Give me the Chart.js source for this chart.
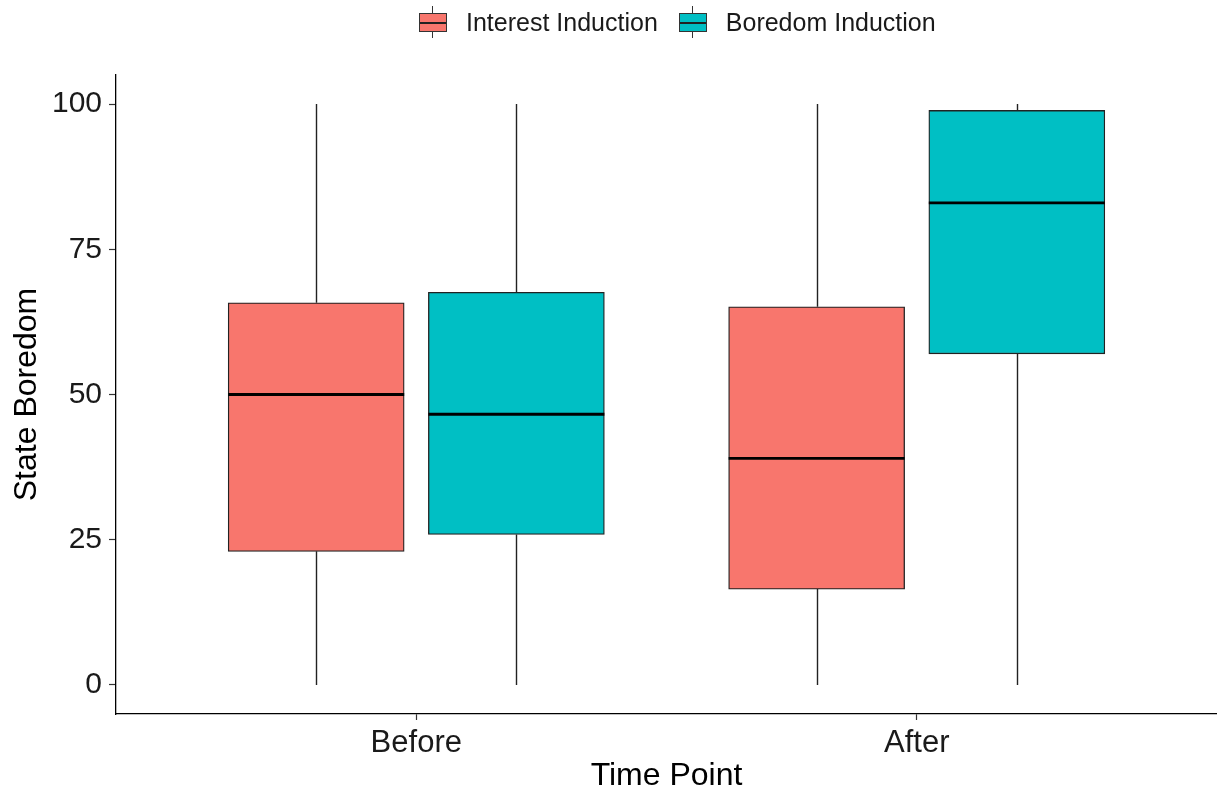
<!DOCTYPE html>
<html>
<head>
<meta charset="utf-8">
<script src="https://cdn.jsdelivr.net/npm/chart.js@4.4.1/dist/chart.umd.min.js"></script>
<style>
  body { margin: 0; background: #fff; font-family: "Liberation Sans", Arial, sans-serif; }
  #wrap { position: relative; width: 1217px; height: 792px; }
  #legend { position: absolute; top: 0; left: 419px; height: 44px; display: flex; align-items: center; font-size: 25px; color: #1a1a1a; }
  .item { display: flex; align-items: center; margin-right: 21px; }
  .key { position: relative; width: 28px; height: 32px; margin-right: 19px; }
  .key .wh { position: absolute; left: 13px; top: 0; width: 1px; height: 32px; background: #333; }
  .key .box { position: absolute; left: 0; top: 7px; width: 28px; height: 19px; box-sizing: border-box; border: 1px solid #333; }
  .key .med { position: absolute; left: 0; top: 8px; width: 26px; height: 2px; background: #222; }
</style>
</head>
<body>
<div id="wrap">
  <canvas id="boxChart" width="1217" height="792"></canvas>
  <div id="legend"></div>
</div>
<script>
// Data
var categories = ['Before', 'After'];
var groups = ['Interest Induction', 'Boredom Induction'];
var groupColors = ['#F8766D', '#00BFC4'];

var interestMin = [0, 0];
var interestQ1 = [23.0, 16.5];
var interestMedian = [50.0, 39.0];
var interestQ3 = [65.8, 65.1];
var interestMax = [100, 100];

var boredomMin = [0, 0];
var boredomQ1 = [25.9, 57.0];
var boredomMedian = [46.6, 83.0];
var boredomQ3 = [67.6, 98.9];
var boredomMax = [100, 100];

var yTicks = [0, 25, 50, 75, 100];

var groupStats = [
    { min: interestMin, q1: interestQ1, med: interestMedian, q3: interestQ3, max: interestMax },
    { min: boredomMin, q1: boredomQ1, med: boredomMedian, q3: boredomQ3, max: boredomMax }
];
var dodge = [-0.2, 0.2]; // ggplot position_dodge(0.8)

// HTML legend (ggplot boxplot keys)
var legendEl = document.getElementById('legend');
groups.forEach(function(name, g) {
    var item = document.createElement('div');
    item.className = 'item';
    item.innerHTML = '<div class="key"><div class="wh"></div><div class="box" style="background:' + groupColors[g] + '"><div class="med"></div></div></div><span>' + name + '</span>';
    legendEl.appendChild(item);
});

// whiskers under the boxes, medians on top
var boxPlotLines = {
    id: 'boxPlotLines',
    beforeDatasetsDraw: function(chart) {
        var ctx = chart.ctx, y = chart.scales.y;
        ctx.save();
        ctx.strokeStyle = '#222';
        ctx.lineWidth = 1.4;
        chart.data.datasets.forEach(function(ds, i) {
            var meta = chart.getDatasetMeta(i);
            meta.data.forEach(function(bar, j) {
                var s = ds.stats;
                var x = Math.round(bar.x) + 0.5;
                ctx.beginPath();
                ctx.moveTo(x, y.getPixelForValue(s.q3[j]));
                ctx.lineTo(x, y.getPixelForValue(s.max[j]));
                ctx.moveTo(x, y.getPixelForValue(s.q1[j]));
                ctx.lineTo(x, y.getPixelForValue(s.min[j]));
                ctx.stroke();
            });
        });
        ctx.restore();
    },
    afterDatasetsDraw: function(chart) {
        var ctx = chart.ctx, y = chart.scales.y;
        ctx.save();
        ctx.strokeStyle = '#000';
        ctx.lineWidth = 2.8;
        chart.data.datasets.forEach(function(ds, i) {
            var meta = chart.getDatasetMeta(i);
            meta.data.forEach(function(bar, j) {
                var py = y.getPixelForValue(ds.stats.med[j]);
                ctx.beginPath();
                ctx.moveTo(bar.x - bar.width / 2, py);
                ctx.lineTo(bar.x + bar.width / 2, py);
                ctx.stroke();
            });
        });
        ctx.restore();
    }
};

var datasets = groups.map(function(name, g) {
    var s = groupStats[g];
    return {
        label: name,
        data: categories.map(function(c, i) {
            return { x: i + 1 + dodge[g], y: [s.q1[i], s.q3[i]] };
        }),
        stats: s,
        backgroundColor: groupColors[g],
        borderColor: '#222',
        borderWidth: 1.3,
        borderSkipped: false,
        grouped: false,
        barThickness: 176
    };
});

var ctx = document.getElementById('boxChart').getContext('2d');
var boxChart = new Chart(ctx, {
    type: 'bar',
    data: { datasets: datasets },
    plugins: [boxPlotLines],
    options: {
        responsive: false,
        animation: false,
        layout: { padding: { top: 75, right: 0, bottom: 0, left: 0 } },
        plugins: {
            legend: { display: false },
            tooltip: { enabled: false }
        },
        scales: {
            x: {
                type: 'linear',
                min: 0.4,
                max: 2.6,
                offset: false,
                afterBuildTicks: function(scale) {
                    scale.ticks = categories.map(function(c, i) { return { value: i + 1 }; });
                },
                afterFit: function(scale) { scale.height = 78; },
                ticks: {
                    autoSkip: false,
                    maxRotation: 0,
                    padding: 5,
                    color: '#1a1a1a',
                    font: { family: '"Liberation Sans", Arial, sans-serif', size: 31 },
                    callback: function(v) { return categories[v - 1]; }
                },
                grid: { display: true, drawOnChartArea: false, offset: false, tickLength: 6, color: '#333', tickWidth: 1.2 },
                border: { display: true, color: '#000', width: 1.3 },
                title: {
                    display: true,
                    text: 'Time Point',
                    color: '#000',
                    padding: { top: 0, bottom: 0 },
                    font: { family: '"Liberation Sans", Arial, sans-serif', size: 32, lineHeight: 1 }
                }
            },
            y: {
                min: -5,
                max: 105,
                afterBuildTicks: function(scale) {
                    scale.ticks = yTicks.map(function(v) { return { value: v }; });
                },
                afterFit: function(scale) { scale.width = 116; },
                ticks: {
                    padding: 7,
                    color: '#1a1a1a',
                    font: { family: '"Liberation Sans", Arial, sans-serif', size: 30 }
                },
                grid: { display: true, drawOnChartArea: false, tickLength: 7, color: '#333', tickWidth: 1.2 },
                border: { display: true, color: '#000', width: 1.3 },
                title: {
                    display: true,
                    text: 'State Boredom',
                    color: '#000',
                    padding: { top: 11, bottom: 0 },
                    font: { family: '"Liberation Sans", Arial, sans-serif', size: 32, lineHeight: 1 }
                }
            }
        }
    }
});
</script>
</body>
</html>
